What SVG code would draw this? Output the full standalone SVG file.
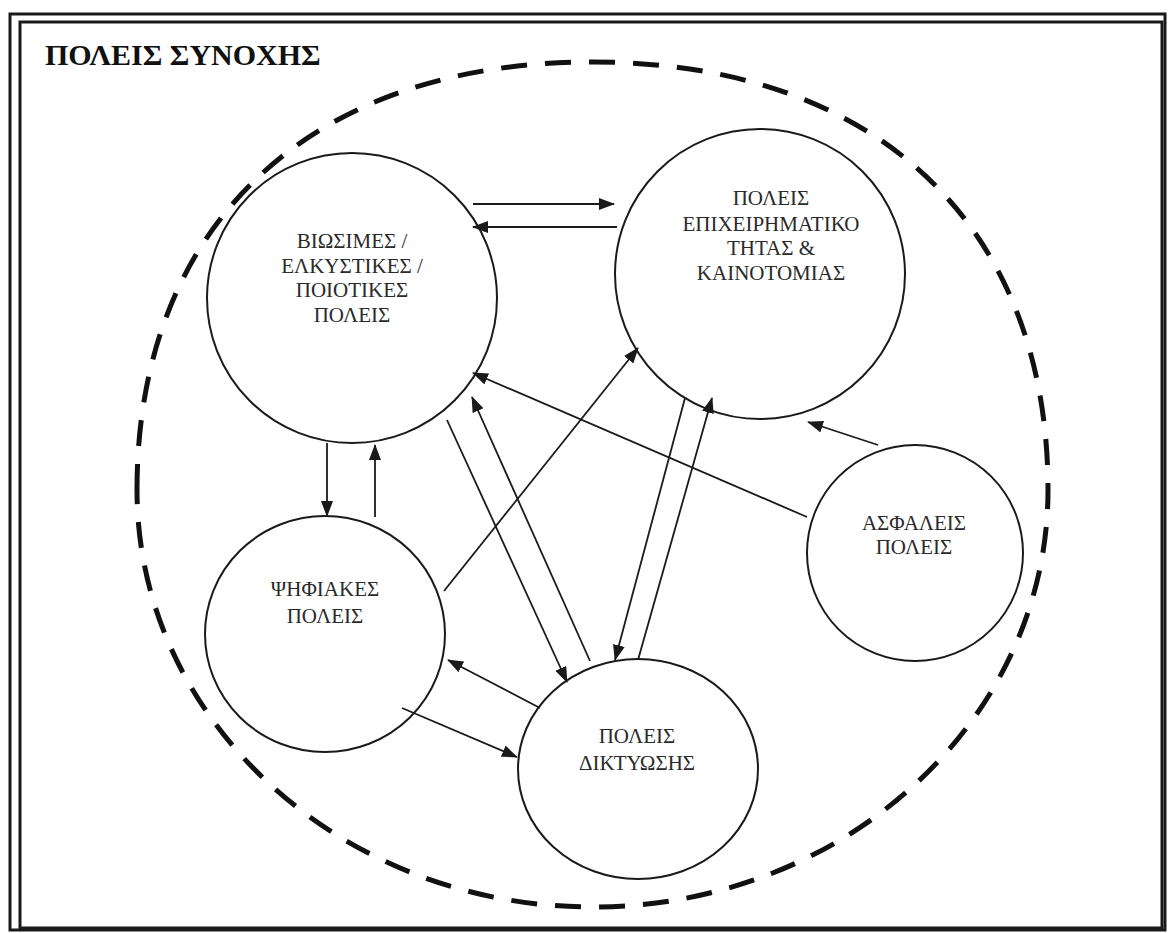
<svg xmlns="http://www.w3.org/2000/svg" width="1169" height="933" viewBox="0 0 1169 933">
  <style>
    .frame { fill: none; stroke: #1a1a1a; }
    .node { fill: none; stroke: #1a1a1a; stroke-width: 2; }
    .label { font-family: "Liberation Serif", "Times New Roman", serif; font-size: 21px; fill: #2a2a2a; text-anchor: middle; }
    .title { font-family: "Liberation Serif", "Times New Roman", serif; font-size: 30px; font-weight: bold; fill: #111; }
    .link { fill: none; stroke: #1a1a1a; stroke-width: 1.8; marker-end: url(#arrow); }
  </style>
  <defs>
    <marker id="arrow" markerUnits="userSpaceOnUse" markerWidth="16" markerHeight="12" viewBox="0 0 16 12" refX="15" refY="6" orient="auto">
      <path d="M0,0 L16,6 L0,12 z" fill="#1a1a1a"/>
    </marker>
  </defs>

  <rect width="1169" height="933" fill="#ffffff"/>

  <!-- double page frame -->
  <rect class="frame" x="10" y="14" width="1155" height="916" stroke-width="3"/>
  <rect class="frame" x="20" y="22" width="1142" height="906" stroke-width="3"/>

  <text class="title" x="45" y="65">ΠΟΛΕΙΣ ΣΥΝΟΧΗΣ</text>

  <!-- dashed boundary: flattened top, elliptic bottom -->
  <path id="boundary" d="M137,490 C137,224.6 310,62 592.5,62 C875,62 1048,224.6 1048,490 C1048,720 844,907 592.5,907 C341,907 137,720 137,490 Z" fill="none" stroke="#111" stroke-width="5" stroke-dasharray="26 18"/>

  <!-- connectors -->
  <g id="connectors">
    <line class="link" x1="473" y1="204" x2="614" y2="204"/>
    <line class="link" x1="617" y1="227" x2="473" y2="227"/>
    <line class="link" x1="327" y1="443" x2="327" y2="516"/>
    <line class="link" x1="375" y1="517" x2="375" y2="445"/>
    <line class="link" x1="444" y1="591" x2="638" y2="348"/>
    <line class="link" x1="807" y1="517" x2="473" y2="373"/>
    <line class="link" x1="878" y1="445" x2="808" y2="422"/>
    <line class="link" x1="447" y1="420" x2="567" y2="682"/>
    <line class="link" x1="590" y1="661" x2="472" y2="397"/>
    <line class="link" x1="685" y1="398" x2="615" y2="660"/>
    <line class="link" x1="638" y1="660" x2="712" y2="398"/>
    <line class="link" x1="540" y1="708" x2="448" y2="660"/>
    <line class="link" x1="402" y1="708" x2="517" y2="757"/>
  </g>

  <g id="node-livable">
    <circle class="node" cx="352" cy="298" r="145"/>
    <text class="label" x="352" y="248">ΒΙΩΣΙΜΕΣ /</text>
    <text class="label" x="352" y="273">ΕΛΚΥΣΤΙΚΕΣ /</text>
    <text class="label" x="352" y="297">ΠΟΙΟΤΙΚΕΣ</text>
    <text class="label" x="352" y="322">ΠΟΛΕΙΣ</text>
  </g>

  <g id="node-enterprise">
    <circle class="node" cx="760" cy="274" r="145"/>
    <text class="label" x="771" y="205">ΠΟΛΕΙΣ</text>
    <text class="label" x="771" y="231">ΕΠΙΧΕΙΡΗΜΑΤΙΚΟ</text>
    <text class="label" x="771" y="255">ΤΗΤΑΣ &amp;</text>
    <text class="label" x="771" y="280">ΚΑΙΝΟΤΟΜΙΑΣ</text>
  </g>

  <g id="node-digital">
    <ellipse class="node" cx="325" cy="634" rx="120" ry="118"/>
    <text class="label" x="325" y="596">ΨΗΦΙΑΚΕΣ</text>
    <text class="label" x="325" y="623">ΠΟΛΕΙΣ</text>
  </g>

  <g id="node-safe">
    <circle class="node" cx="915" cy="553" r="108"/>
    <text class="label" x="914" y="530">ΑΣΦΑΛΕΙΣ</text>
    <text class="label" x="914" y="554">ΠΟΛΕΙΣ</text>
  </g>

  <g id="node-network">
    <ellipse class="node" cx="638" cy="769" rx="120" ry="110"/>
    <text class="label" x="637" y="743">ΠΟΛΕΙΣ</text>
    <text class="label" x="637" y="770">ΔΙΚΤΥΩΣΗΣ</text>
  </g>
</svg>
